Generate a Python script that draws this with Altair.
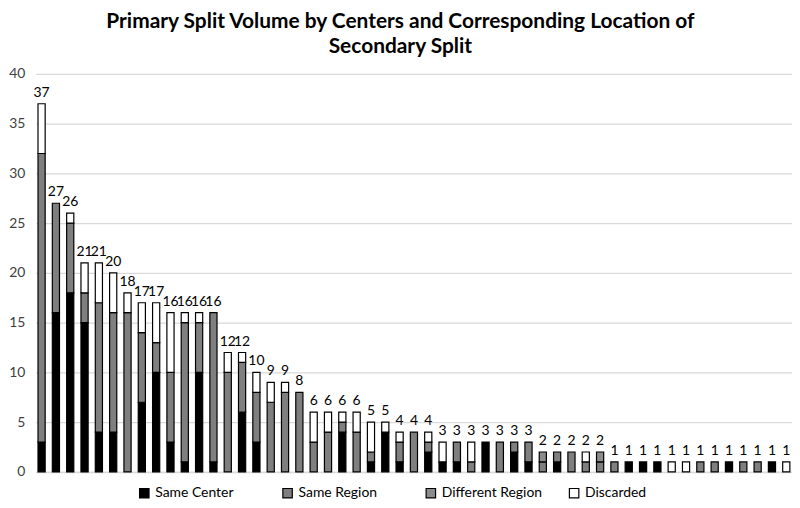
import altair as alt
import pandas as pd

centers = [f"C{i:02d}" for i in range(1, 54)]

same_center = [3, 16, 18, 15, 4, 4, 0, 7, 10, 3, 1, 10, 1,
               0, 6, 3, 0, 0, 0,
               0, 0, 4, 0,
               1, 4,
               1, 0, 2,
               1, 1, 0, 3, 0, 2, 1,
               0, 1, 0, 0, 0,
               0, 1, 1, 1, 0, 0, 0, 0, 1, 0, 0, 1, 0]
same_region = [29, 11, 7, 3, 13, 12, 16, 7, 3, 7, 14, 5, 15,
               10, 5, 5, 7, 8, 8,
               3, 4, 1, 4,
               1, 0,
               2, 4, 1,
               0, 2, 1, 0, 3, 1, 2,
               1, 1, 2, 1, 1,
               1, 0, 0, 0, 0, 0, 1, 1, 0, 1, 1, 0, 0]
different_region = [0] * 35 + [1, 0, 0, 0, 1] + [0] * 13
discarded = [5, 0, 1, 3, 4, 4, 2, 3, 4, 6, 1, 1, 0,
             2, 1, 2, 2, 1, 0,
             3, 2, 1, 2,
             3, 1,
             1, 0, 1,
             2, 0, 2, 0, 0, 0, 0,
             0, 0, 0, 1, 0,
             0, 0, 0, 0, 1, 1, 0, 0, 0, 0, 0, 0, 1]

categories = ["Same Center", "Same Region", "Different Region", "Discarded"]
colors = ["#000000", "#7f7f7f", "#8c8c8c", "#ffffff"]
series = [same_center, same_region, different_region, discarded]

rows = []
for i, c in enumerate(centers):
    for k, arr in enumerate(series):
        if arr[i] > 0:
            rows.append({"center": c, "category": categories[k], "value": arr[i], "order": k})
df = pd.DataFrame(rows)
totals = pd.DataFrame({"center": centers,
                       "total": [sum(s[i] for s in series) for i in range(len(centers))]})

FONT = "Lato"

x = alt.X("center:N", sort=centers,
          scale=alt.Scale(paddingInner=0.5, paddingOuter=0.15),
          axis=alt.Axis(labels=False, ticks=False, title=None,
                        domainColor="#d9d9d9", domainWidth=1.5))

bars = alt.Chart(df).mark_bar(stroke="black", strokeWidth=1.2).encode(
    x=x,
    y=alt.Y("value:Q", stack="zero", scale=alt.Scale(domain=[0, 40]),
            axis=alt.Axis(values=list(range(0, 41, 5)), title=None, domain=False,
                          ticks=False, gridColor="#d9d9d9", gridWidth=1.2,
                          labelFontSize=14, labelPadding=11, labelColor="#404040",
                          labelFont=FONT)),
    color=alt.Color("category:N", scale=alt.Scale(domain=categories, range=colors),
                    legend=alt.Legend(title=None, orient="none", legendX=102, legendY=414,
                                      direction="horizontal", columns=4, gridAlign="all",
                                      columnPadding=24, symbolType="square",
                                      symbolSize=90, symbolStrokeColor="black",
                                      symbolStrokeWidth=1.2, labelFontSize=14,
                                      labelFont=FONT, labelColor="#000000",
                                      padding=0)),
    order=alt.Order("order:Q"),
)

labels = alt.Chart(totals).mark_text(dy=-11, fontSize=14, font=FONT, color="black").encode(
    x=alt.X("center:N", sort=centers),
    y=alt.Y("total:Q"),
    text="total:Q",
)

chart = (bars + labels).properties(
    width=760, height=400,
    padding={"left": 0, "top": 2, "right": 0, "bottom": 0},
    title=alt.Title(["Primary Split Volume by Centers and Corresponding Location of",
                     "Secondary Split"],
                    fontSize=21, font=FONT, fontWeight="bold", anchor="middle",
                    frame="bounds", lineHeight=25, offset=10, color="#000000"),
).configure_view(stroke=None)

chart.save("out.html", embed_options={"renderer": "svg", "actions": False})
